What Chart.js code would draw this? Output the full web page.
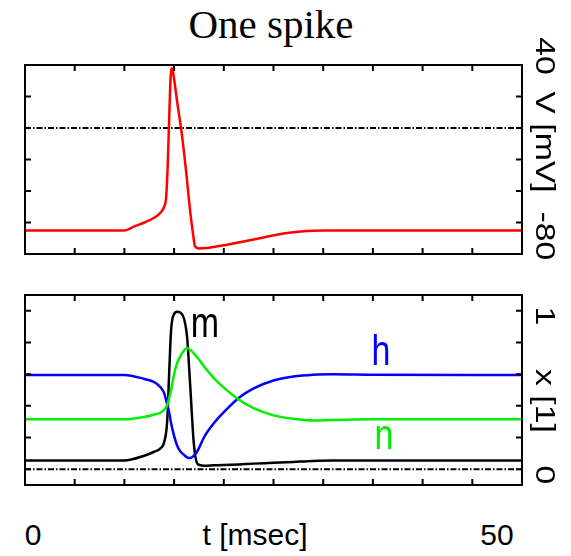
<!DOCTYPE html>
<html>
<head>
<meta charset="utf-8">
<title>One spike</title>
<script src="https://cdn.jsdelivr.net/npm/chart.js@4.4.1/dist/chart.umd.min.js"></script>
<style>
    body {
        margin: 0;
        background: #fff;
    }

    #wrap {
        position: relative;
        width: 571px;
        height: 556px;
        overflow: hidden;
        font-family: "Liberation Sans", Arial, sans-serif;
    }

    canvas {
        position: absolute;
        left: 0;
    }

    .title {
        position: absolute;
        left: 0;
        width: 542px;
        top: 2px;
        text-align: center;
        font-family: "Liberation Serif", "Times New Roman", serif;
        font-size: 41px;
        line-height: 44px;
    }

    .xlab {
        position: absolute;
        top: 518px;
        font-size: 30px;
        line-height: 34px;
        white-space: nowrap;
        transform: translateX(-50%);
    }

    .ylab {
        position: absolute;
        left: 544px;
        font-size: 27px;
        line-height: 27px;
        white-space: nowrap;
        transform: translate(-50%, -50%) rotate(90deg) scaleX(1.25);
    }
</style>
</head>
<body>

<div id="wrap">

    <div class="title">One spike</div>

    <canvas id="voltChart" width="571" height="230" style="top:40px"></canvas>
    <canvas id="gateChart" width="571" height="220" style="top:280px"></canvas>

    <div class="ylab" style="top:56px">40</div>
    <div class="ylab" style="top:142px">V [mV]</div>
    <div class="ylab" style="top:236px">-80</div>

    <div class="ylab" style="top:316px">1</div>
    <div class="ylab" style="top:401px">x [1]</div>
    <div class="ylab" style="top:475px">0</div>

    <div class="xlab" style="left:33px">0</div>
    <div class="xlab" style="left:255px">t [msec]</div>
    <div class="xlab" style="left:497px">50</div>

</div>

<script>

// ================= DATA =================

// membrane potential, mV
const tVolt = [0, 10, 11, 12, 13, 13.6, 14, 14.2, 14.35, 14.5, 14.65, 14.8, 15, 15.3,
    15.8, 16.2, 16.6, 16.9, 17.1, 17.5, 18.5, 20, 22, 24, 26, 28, 30, 31, 50];
const volt = [-65, -65, -62.5, -60, -57, -54, -50, -44, -25, 5, 32, 38, 31, 17,
    -5, -27, -52, -67, -75, -76.5, -76, -74.5, -72, -69.5, -67, -65.5, -65, -65, -65];

// gating variables m, h, n
const tGate = [0, 10, 12, 13, 13.6, 14, 14.3, 14.5, 14.7, 15, 15.3, 15.6, 16, 16.3,
    16.6, 17, 17.4, 18, 19, 20, 21.5, 23, 25, 27, 29, 31, 35, 50];
const gateM = [0.055, 0.055, 0.085, 0.11, 0.13, 0.17, 0.3, 0.6, 0.88, 0.98, 0.995, 0.99, 0.95, 0.84,
    0.55, 0.15, 0.03, 0.022, 0.024, 0.026, 0.03, 0.035, 0.04, 0.046, 0.052, 0.055, 0.055, 0.055];
const gateH = [0.595, 0.595, 0.57, 0.55, 0.52, 0.48, 0.41, 0.36, 0.29, 0.21, 0.15, 0.115, 0.09, 0.075,
    0.07, 0.085, 0.12, 0.2, 0.29, 0.36, 0.45, 0.51, 0.56, 0.585, 0.597, 0.6, 0.597, 0.595];
const gateN = [0.315, 0.315, 0.33, 0.345, 0.356, 0.375, 0.405, 0.45, 0.5, 0.6, 0.67, 0.71, 0.75, 0.765,
    0.755, 0.73, 0.7, 0.65, 0.575, 0.515, 0.44, 0.385, 0.34, 0.318, 0.307, 0.31, 0.315, 0.315];

// tick positions
const xTicks = [0, 5, 10, 15, 20, 25, 30, 35, 40, 45, 50];
const voltTicks = [-80, -60, -40, -20, 0, 20, 40];
const gateTicks = [0, 0.2, 0.4, 0.6, 0.8, 1];

// curve labels in the lower panel
const gateLabels = [
    { text: "m", t: 18.1, y: 0.91, color: "#000000" },
    { text: "h", t: 35.8, y: 0.73, color: "#0000ff" },
    { text: "n", t: 36.1, y: 0.2, color: "#00ee00" }
];

function pairs(xs, ys) {
    return xs.map((x, i) => ({ x: x, y: ys[i] }));
}

// ================= FRAME PLUGIN =================

// box with inward ticks on all four sides + dash-dot zero line
const framePlugin = {

    id: "frame",

    beforeDatasetsDraw(chart, args, opts) {

        const ctx = chart.ctx;
        const area = chart.chartArea;
        const y0 = chart.scales.y.getPixelForValue(0);

        ctx.save();
        ctx.strokeStyle = "#000";
        ctx.lineWidth = 2;
        ctx.setLineDash([6, 2, 1.5, 2]);
        ctx.beginPath();
        ctx.moveTo(area.left, y0);
        ctx.lineTo(area.right, y0);
        ctx.stroke();
        ctx.restore();

    },

    afterDatasetsDraw(chart, args, opts) {

        const ctx = chart.ctx;
        const area = chart.chartArea;
        const xs = chart.scales.x;
        const ys = chart.scales.y;
        const len = 6;

        ctx.save();
        ctx.strokeStyle = "#000";
        ctx.lineWidth = 2;

        ctx.strokeRect(area.left, area.top, area.right - area.left, area.bottom - area.top);

        ctx.beginPath();

        xTicks.forEach(v => {
            const px = xs.getPixelForValue(v);
            ctx.moveTo(px, area.top);
            ctx.lineTo(px, area.top + len);
            ctx.moveTo(px, area.bottom);
            ctx.lineTo(px, area.bottom - len);
        });

        opts.yTicks.forEach(v => {
            const py = ys.getPixelForValue(v);
            ctx.moveTo(area.left, py);
            ctx.lineTo(area.left + len, py);
            ctx.moveTo(area.right, py);
            ctx.lineTo(area.right - len, py);
        });

        ctx.stroke();

        (opts.labels || []).forEach(lb => {
            ctx.save();
            ctx.translate(xs.getPixelForValue(lb.t), ys.getPixelForValue(lb.y));
            ctx.scale(1, 1.25);
            ctx.fillStyle = lb.color;
            ctx.font = "34px 'Liberation Sans', Arial, sans-serif";
            ctx.textAlign = "center";
            ctx.textBaseline = "middle";
            ctx.fillText(lb.text, 0, 0);
            ctx.restore();
        });

        ctx.restore();

    }

};

function panelOptions(yMin, yMax, padTop, padBottom, yTicks, labels) {

    return {
        responsive: false,
        animation: false,
        layout: {
            padding: { left: 25, right: 49, top: padTop, bottom: padBottom }
        },
        elements: {
            point: { radius: 0 },
            line: { borderWidth: 2.5, tension: 0.25 }
        },
        scales: {
            x: { type: "linear", min: 0, max: 50, display: false },
            y: { type: "linear", min: yMin, max: yMax, display: false }
        },
        plugins: {
            legend: { display: false },
            tooltip: { enabled: false },
            frame: { yTicks: yTicks, labels: labels }
        }
    };

}

// ================= VOLTAGE =================

new Chart(document.getElementById("voltChart"), {

    type: "line",

    data: {
        datasets: [{
            label: "V",
            data: pairs(tVolt, volt),
            borderColor: "#ff0000",
            cubicInterpolationMode: "monotone"
        }]
    },

    options: panelOptions(-80, 40, 25, 16, voltTicks, []),

    plugins: [framePlugin]

});

// ================= GATING =================

new Chart(document.getElementById("gateChart"), {

    type: "line",

    data: {
        datasets: [
            {
                label: "n",
                data: pairs(tGate, gateN),
                borderColor: "#00ee00",
                cubicInterpolationMode: "monotone"
            },
            {
                label: "h",
                data: pairs(tGate, gateH),
                borderColor: "#0000ff",
                cubicInterpolationMode: "monotone"
            },
            {
                label: "m",
                data: pairs(tGate, gateM),
                borderColor: "#000000",
                cubicInterpolationMode: "monotone"
            }
        ]
    },

    options: panelOptions(-0.1, 1.1, 15, 15, gateTicks, gateLabels),

    plugins: [framePlugin]

});

</script>

</body>
</html>
